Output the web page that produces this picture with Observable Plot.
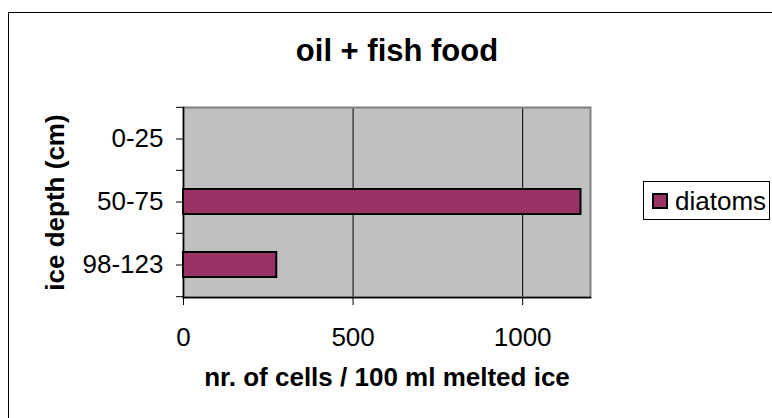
<!DOCTYPE html>
<html>
<head>
<meta charset="utf-8">
<script src="https://cdn.jsdelivr.net/npm/d3@7"></script>
<script src="https://cdn.jsdelivr.net/npm/@observablehq/plot@0.6"></script>
<style>
  html, body { margin: 0; padding: 0; background: #fff; }
  #wrap { position: relative; width: 772px; height: 418px; overflow: hidden; font-family: "Liberation Sans", Arial, sans-serif; }
  #border { position: absolute; left: 8px; top: 12px; width: 800px; height: 450px; border: 1px solid #000; box-sizing: border-box; }
  #chart { position: absolute; left: 0; top: 0; }
  #legend { position: absolute; left: 643px; top: 181px; width: 127px; height: 39px; border: 1px solid #000; box-sizing: border-box; background: #fff; display: flex; align-items: center; }
  #legend .sw { width: 16px; height: 16px; box-sizing: border-box; border: 2px solid #000; margin-left: 8px; }
  #legend .lb { font-size: 26px; margin-left: 7px; color: #000; line-height: 1; }
</style>
</head>
<body>
<div id="wrap">
  <div id="border"></div>
  <div id="chart"></div>
  <div id="legend"></div>
</div>
<script>
const titleText = "oil + fish food";
const xTitle = "nr. of cells / 100 ml melted ice";
const yTitle = "ice depth (cm)";
const seriesName = "diatoms";
const seriesColor = "#993366";
const categories = ["0-25", "50-75", "98-123"];
const diatoms = [0, 1172, 275];
const xTicks = [0, 500, 1000];
const xMax = 1200;

const data = categories.map((c, i) => ({depth: c, value: diatoms[i]}));

const W = 772, H = 418, mT = 107, mB = 121, mL = 183, mR = 182;
const step = (H - mT - mB) / categories.length;

const chart = Plot.plot({
  width: W, height: H,
  marginTop: mT, marginBottom: mB, marginLeft: mL, marginRight: mR,
  style: {fontFamily: "'Liberation Sans', Arial, sans-serif", fontSize: "26px", color: "#000", background: "transparent", overflow: "visible"},
  x: {domain: [0, xMax]},
  y: {domain: categories, paddingInner: 0.6, paddingOuter: 0.3},
  marks: [
    Plot.frame({fill: "#c0c0c0"}),
    Plot.gridX(xTicks.filter(t => t > 0), {stroke: "#000", strokeOpacity: 1, strokeWidth: 1}),
    Plot.frame({stroke: "#808080", strokeWidth: 2}),
    Plot.frame({anchor: "left", stroke: "#000", strokeWidth: 1.5}),
    Plot.frame({anchor: "bottom", stroke: "#000", strokeWidth: 1.5}),
    Plot.barX(data, {x: "value", y: "depth", fill: seriesColor, stroke: "#000", strokeWidth: 2, filter: d => d.value > 0}),
    Plot.axisX(xTicks, {tickSize: 8, tickPadding: 22, label: null, stroke: "#000", tickFormat: d3.format("d")}),
    Plot.axisY({tickSize: 7, tickPadding: 13, label: null, stroke: "#000"}),
    Plot.axisY({tickSize: 7, text: null, label: null, dy: -step / 2, stroke: "#000"}),
    Plot.axisY([categories[categories.length - 1]], {tickSize: 7, text: null, label: null, dy: step / 2, stroke: "#000"}),
    Plot.text([titleText], {text: d => d, frameAnchor: "top", dx: 10, dy: -56, lineAnchor: "middle", fontSize: 31, fontWeight: "bold", fill: "#000"}),
    Plot.text([xTitle], {text: d => d, frameAnchor: "bottom", dy: 80, lineAnchor: "middle", fontSize: 26, fontWeight: "bold", fill: "#000"}),
    Plot.text([yTitle], {text: d => d, frameAnchor: "left", dx: -128, rotate: -90, textAnchor: "middle", lineAnchor: "middle", fontSize: 26, fontWeight: "bold", fill: "#000"})
  ]
});
document.getElementById("chart").appendChild(chart);

const lg = document.getElementById("legend");
const sw = document.createElement("div");
sw.className = "sw";
sw.style.background = seriesColor;
const lb = document.createElement("span");
lb.className = "lb";
lb.textContent = seriesName;
lg.appendChild(sw);
lg.appendChild(lb);
</script>
</body>
</html>
